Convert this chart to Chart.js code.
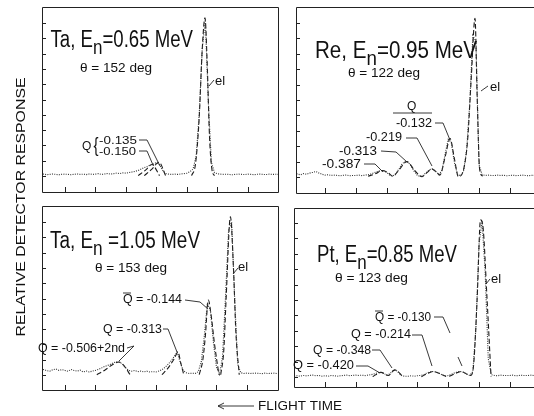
<!DOCTYPE html>
<html>
<head>
<meta charset="utf-8">
<script src="https://cdn.jsdelivr.net/npm/chart.js@4.4.1/dist/chart.umd.min.js"></script>
<style>
  html, body { margin: 0; padding: 0; background: #fff; width: 534px; height: 416px; overflow: hidden; }
  canvas { position: absolute; left: 0; top: 0; }
</style>
</head>
<body>
<canvas id="p1" width="560" height="416"></canvas>
<canvas id="p2" width="560" height="416"></canvas>
<canvas id="p3" width="560" height="416"></canvas>
<canvas id="p4" width="560" height="416"></canvas>
<script>
// flight-time channels shared by the four spectra
var channels = [-10,-9,-8,-7,-6,-5,-4,-3,-2,-1,
  0,1,2,3,4,5,6,7,8,9,
  10,11,12,13,14,15,16,17,18,19,
  20,21,22,23,24,25,26,27,28,29,
  30,31,32,33,34,35,36,37,38,39,
  40,41,42,43,44,45,46,47,48,49,
  50,51,52,53,54,55,56,57,58,59,
  60,61,62,63,64,65,66,67,68,69,70];

var timeTicks = [0, 10, 20, 30, 40, 50, 60];
var responseTicks = [0, 1, 2, 3, 4, 5, 6, 7, 8, 9, 10];

// Ta, En = 0.65 MeV
var taLowCounts = [0.10,0.12,0.10,0.12,0.08,0.10,0.13,0.10,0.08,0.11,
  0.12,0.10,0.08,0.11,0.13,0.10,0.12,0.09,0.13,0.10,
  0.12,0.15,0.10,0.13,0.16,0.12,0.15,0.19,0.15,0.20,
  0.18,0.22,0.26,0.30,0.36,0.45,0.55,0.62,0.72,0.78,
  0.88,0.72,0.38,0.16,0.12,0.10,0.12,0.10,0.13,0.15,
  0.18,0.28,0.45,1.30,4.00,8.30,10.20,4.80,0.90,0.22,
  0.14,0.12,0.10,0.12,0.09,0.08,0.11,0.12,0.10,0.09,
  0.12,0.10,0.08,0.11,0.12,0.10,0.09,0.12,0.10,0.11,0.10];
var taLowFitX = [24, 26.5, 28.5, 31, 31, 26, 28.5, 30.8, 33, 33, 41.5, 42.8, 44, 45, 45.9, 46.6, 47.4, 48.2, 49];
var taLowFitY = [0.02, 0.4, 0.75, 0.02, null, 0.02, 0.45, 0.9, 0.02, null, 0.02, 0.8, 3.8, 8.3, 10.35, 7.5, 2.5, 0.4, 0.02];

// Re, En = 0.95 MeV
var reCounts = [0.15,0.20,0.14,0.22,0.18,0.25,0.30,0.36,0.26,0.18,
  0.12,0.15,0.10,0.12,0.10,0.08,0.11,0.13,0.08,0.10,
  0.10,0.12,0.09,0.12,0.15,0.20,0.28,0.35,0.42,0.40,
  0.30,0.12,0.06,0.22,0.52,0.85,1.00,0.95,0.70,0.35,
  0.10,0.03,0.12,0.32,0.48,0.52,0.35,0.15,0.45,1.50,
  2.45,2.25,0.95,0.18,0.08,0.40,1.80,4.80,9.20,8.80,
  0.80,0.15,0.10,0.12,0.10,0.09,0.12,0.10,0.11,0.08,
  0.10,0.12,0.09,0.10,0.12,0.10,0.08,0.11,0.10,0.12,0.10];
var reFitX = [14, 16.5, 18.5, 20.5, 22, 24, 26.6, 29, 31.5, 33.2, 34.7, 36, 37.3, 39, 40.6, 42, 43.3, 45, 46.3, 47.5, 48.7, 49.4, 50.2, 51.2];
var reFitY = [0.05, 0.22, 0.42, 0.28, 0.05, 0.45, 1.0, 0.45, 0.02, 0.3, 0.52, 0.35, 0.12, 1.3, 2.5, 1.2, 0.02, 0.5, 2.4, 6.5, 10.3, 5.2, 0.5, 0.05];

// Ta, En = 1.05 MeV
var taHighCounts = [0.30,0.25,0.32,0.36,0.28,0.25,0.35,0.40,0.30,0.35,
  0.30,0.25,0.36,0.30,0.25,0.32,0.20,0.26,0.20,0.25,
  0.30,0.36,0.45,0.55,0.62,0.70,0.80,0.86,0.84,0.72,
  0.48,0.30,0.25,0.30,0.22,0.26,0.20,0.25,0.20,0.22,
  0.20,0.26,0.35,0.50,0.70,0.92,1.20,1.50,0.85,0.30,
  0.15,0.10,0.12,0.10,0.22,0.90,2.60,4.70,4.20,2.10,
  0.50,0.05,1.20,5.20,9.50,10.00,5.00,0.70,0.15,0.10,
  0.12,0.10,0.11,0.12,0.10,0.09,0.12,0.10,0.11,0.12,0.10];
var taHighFitX = [10.5, 13, 15.5, 17.8, 19.5, 21.5, 21.5, 32, 34, 36, 37.3, 38.2, 39.2, 39.2, 44.3, 45.5, 46.3, 47.3, 48.3, 49.3, 50.8, 50.8, 51.4, 52.4, 53.2, 54.6, 55.6, 56.4, 57.5];
var taHighFitY = [0.02, 0.3, 0.65, 0.85, 0.6, 0.02, null, 0.02, 0.45, 1.05, 1.5, 0.8, 0.02, null, 0.02, 1.0, 2.5, 4.9, 3.8, 2.1, 0.02, null, 0.02, 1.6, 5.1, 10.35, 7.0, 2.8, 0.02];

// Pt, En = 0.85 MeV
var ptCounts = [0.05,0.08,0.05,0.10,0.07,0.10,0.12,0.08,0.10,0.05,
  0.08,0.05,0.10,0.08,0.05,0.08,0.10,0.12,0.09,0.10,
  0.12,0.10,0.12,0.09,0.12,0.15,0.20,0.27,0.31,0.25,
  0.12,0.20,0.40,0.46,0.25,0.08,0.05,0.05,0.08,0.05,
  0.08,0.10,0.15,0.25,0.32,0.36,0.32,0.25,0.14,0.05,
  0.10,0.16,0.26,0.33,0.36,0.30,0.18,0.10,0.35,3.20,
  8.60,10.10,6.80,1.20,0.15,0.10,0.08,0.12,0.10,0.09,
  0.10,0.12,0.08,0.10,0.11,0.09,0.10,0.12,0.08,0.10,0.10];
var ptFitX = [15.5, 18.2, 20.5, 22.7, 25.3, 25.3, 31.3, 33.2, 35.1, 37.2, 39.3, 39.3, 40.3, 42.3, 44.2, 46, 47.3, 48.3, 49.4, 50.5, 51.2, 52.6, 53.9];
var ptFitY = [0.02, 0.3, 0.1, 0.46, 0.02, null, 0.02, 0.22, 0.36, 0.22, 0.04, null, 0.04, 0.22, 0.36, 0.2, 0.1, 0.9, 5.1, 10.2, 9.9, 5.1, 0.02];

var FONT = '"Liberation Sans", Arial, sans-serif';

function drawText(ctx, t) {
  ctx.font = t.s + 'px ' + FONT;
  var m = ctx.measureText(t.t).width;
  var sx = t.w ? t.w / m : 1;
  ctx.save();
  ctx.translate(t.x, t.y);
  if (t.rot) ctx.rotate(t.rot);
  ctx.scale(sx, 1);
  ctx.textAlign = t.center ? 'center' : 'left';
  ctx.fillText(t.t, 0, 0);
  ctx.restore();
}

// title like "Ta, E_n=0.65 MeV", squeezed evenly to span x..xEnd
function drawTitle(ctx, ti) {
  var parts = [[ti.head, 23, 0], ['n', 21, 6.5], [ti.tail, 23, 0]];
  var total = 0;
  parts.forEach(function(p) { ctx.font = p[1] + 'px ' + FONT; p.push(ctx.measureText(p[0]).width); total += p[3]; });
  var sx = (ti.xEnd - ti.x) / total, x = ti.x;
  parts.forEach(function(p) {
    ctx.font = p[1] + 'px ' + FONT;
    ctx.save();
    ctx.translate(x, ti.y + p[2]);
    ctx.scale(sx, 1);
    ctx.fillText(p[0], 0, 0);
    ctx.restore();
    x += p[3] * sx;
  });
}

var framePlugin = {
  id: 'frame',
  afterDatasetsDraw: function(chart) {
    var ctx = chart.ctx, a = chart.chartArea;
    var sx = chart.scales.x, sy = chart.scales.y;
    ctx.save();
    ctx.strokeStyle = '#222';
    ctx.lineWidth = 1;
    ctx.beginPath();
    ctx.rect(Math.round(a.left) + 0.5, Math.round(a.top) + 0.5, Math.round(a.right - a.left), Math.round(a.bottom - a.top));
    responseTicks.forEach(function(v) {
      var y = Math.round(sy.getPixelForValue(v)) + 0.5;
      ctx.moveTo(a.left, y);
      ctx.lineTo(a.left + 4, y);
    });
    timeTicks.forEach(function(v) {
      var x = Math.round(sx.getPixelForValue(v)) + 0.5;
      ctx.moveTo(x, a.bottom);
      ctx.lineTo(x, a.bottom - 5);
    });
    ctx.stroke();
    ctx.restore();
  }
};

function notesPlugin(notes) {
  return {
    id: 'notes',
    afterDraw: function(chart) {
      var ctx = chart.ctx;
      ctx.save();
      ctx.fillStyle = '#111';
      ctx.strokeStyle = '#222';
      ctx.lineWidth = 0.9;
      drawTitle(ctx, notes.title);
      notes.texts.forEach(function(t) { drawText(ctx, t); });
      notes.lines.forEach(function(p) {
        ctx.beginPath();
        ctx.moveTo(p[0], p[1]);
        for (var i = 2; i < p.length; i += 2) ctx.lineTo(p[i], p[i + 1]);
        ctx.stroke();
      });
      ctx.restore();
    }
  };
}

function makePanel(id, counts, fitX, fitY, box, notes) {
  var measured = channels.map(function(c, i) { return {x: c, y: counts[i]}; });
  var fit = fitX.map(function(c, i) { return {x: c, y: fitY[i]}; });
  return new Chart(document.getElementById(id), {
    type: 'line',
    data: {
      datasets: [
        {data: measured, borderColor: '#333', borderWidth: 1.1, borderDash: [1, 1.3],
         pointRadius: 0, tension: 0, fill: false},
        {data: fit, borderColor: '#1a1a1a', borderWidth: 1.1, borderDash: [5, 2.5],
         pointRadius: 0, cubicInterpolationMode: 'monotone', spanGaps: false, fill: false}
      ]
    },
    options: {
      responsive: false,
      animation: false,
      events: [],
      layout: {padding: {left: box.left, top: box.top, right: 560 - box.right, bottom: 416 - box.bottom}},
      scales: {
        x: {type: 'linear', display: false, min: box.xMin, max: box.xMax},
        y: {type: 'linear', display: false, min: box.yMin, max: box.yMax}
      },
      plugins: {legend: {display: false}, tooltip: {enabled: false}}
    },
    plugins: [framePlugin, notesPlugin(notes)]
  });
}

makePanel('p1', taLowCounts, taLowFitX, taLowFitY,
  {left: 42, top: 7, right: 278, bottom: 192, xMin: -7.54, xMax: 69.84, yMin: -1.05, yMax: 11.05},
  {title: {head: 'Ta, E', tail: '=0.65 MeV', x: 50.5, xEnd: 193, y: 47},
   texts: [
    {t: 'θ = 152 deg', x: 80, y: 72, s: 13, w: 72},
    {t: 'el', x: 215, y: 85, s: 13},
    {t: 'Q', x: 82, y: 150, s: 12},
    {t: '{', x: 93.5, y: 151.5, s: 20, w: 5},
    {t: '-0.135', x: 99, y: 143.5, s: 11, w: 38},
    {t: '-0.150', x: 99, y: 155, s: 11, w: 37},
    {t: 'RELATIVE DETECTOR RESPONSE', x: 25, y: 207, s: 13.5, w: 259, rot: -Math.PI / 2, center: true}
  ], lines: [
    [209, 86, 214, 80],
    [139, 140, 147, 140, 160, 166],
    [139, 151, 147, 151, 153, 165]
  ]});

makePanel('p2', reCounts, reFitX, reFitY,
  {left: 296, top: 7, right: 540, bottom: 193, xMin: -9.42, xMax: 69.8, yMin: -1.04, yMax: 11.04},
  {title: {head: 'Re, E', tail: '=0.95 MeV', x: 315, xEnd: 477, y: 58},
   texts: [
    {t: 'θ = 122 deg', x: 348, y: 77, s: 13, w: 72},
    {t: 'el', x: 490, y: 91, s: 13},
    {t: 'Q', x: 407, y: 110, s: 12},
    {t: '-0.132', x: 396, y: 127, s: 12, w: 36},
    {t: '-0.219', x: 366, y: 141, s: 12, w: 36},
    {t: '-0.313', x: 339, y: 155, s: 12, w: 38},
    {t: '-0.387', x: 322, y: 168, s: 12, w: 39}
  ], lines: [
    [481, 91, 488, 86],
    [393, 113, 432, 113],
    [435, 123, 443, 123, 450, 140],
    [406, 138, 417, 138, 432, 166],
    [381, 151, 396, 152, 407, 162],
    [364, 164, 375, 164, 383, 172]
  ]});

makePanel('p3', taHighCounts, taHighFitX, taHighFitY,
  {left: 42, top: 206, right: 278, bottom: 390, xMin: -7.59, xMax: 70.3, yMin: -0.98, yMax: 11.05},
  {title: {head: 'Ta, E', tail: ' =1.05 MeV', x: 50, xEnd: 200, y: 248},
   texts: [
    {t: 'θ = 153 deg', x: 95, y: 272, s: 13, w: 72},
    {t: 'el', x: 238, y: 271, s: 13},
    {t: 'Q = -0.144', x: 123, y: 303, s: 12, w: 59},
    {t: 'Q = -0.313', x: 103, y: 333, s: 12, w: 59},
    {t: 'Q = -0.506+2nd', x: 38, y: 352, s: 12, w: 87}
  ], lines: [
    [233, 274, 238, 268],
    [123, 293, 131, 293],
    [185, 300, 200, 302, 208, 309],
    [163, 329, 168, 329, 177, 352],
    [127, 348, 134, 346, 119, 361]
  ]});

makePanel('p4', ptCounts, ptFitX, ptFitY,
  {left: 294, top: 208, right: 540, bottom: 387, xMin: -10.06, xMax: 69.8, yMin: -0.65, yMax: 10.97},
  {title: {head: 'Pt, E', tail: '=0.85 MeV', x: 317, xEnd: 457, y: 262},
   texts: [
    {t: 'θ = 123 deg', x: 335, y: 282, s: 13, w: 73},
    {t: 'el', x: 491, y: 283, s: 13},
    {t: 'Q = -0.130', x: 375, y: 321, s: 12, w: 56},
    {t: 'Q = -0.214', x: 351, y: 338, s: 12, w: 60},
    {t: 'Q = -0.348', x: 313, y: 354, s: 12, w: 58},
    {t: 'Q = -0.420', x: 293, y: 369, s: 12, w: 61},
    {t: 'FLIGHT TIME', x: 258, y: 410, s: 12, w: 84}
  ], lines: [
    [486, 284, 490, 279],
    [375, 311, 383, 311],
    [434, 317, 443, 317, 450, 333],
    [458, 357, 462, 366],
    [412, 335, 422, 335, 432, 366],
    [372, 350, 380, 350, 392, 368],
    [356, 366, 368, 366, 380, 373],
    [218, 406, 254, 406],
    [224, 403, 218, 406, 224, 409]
  ]});
</script>
</body>
</html>
